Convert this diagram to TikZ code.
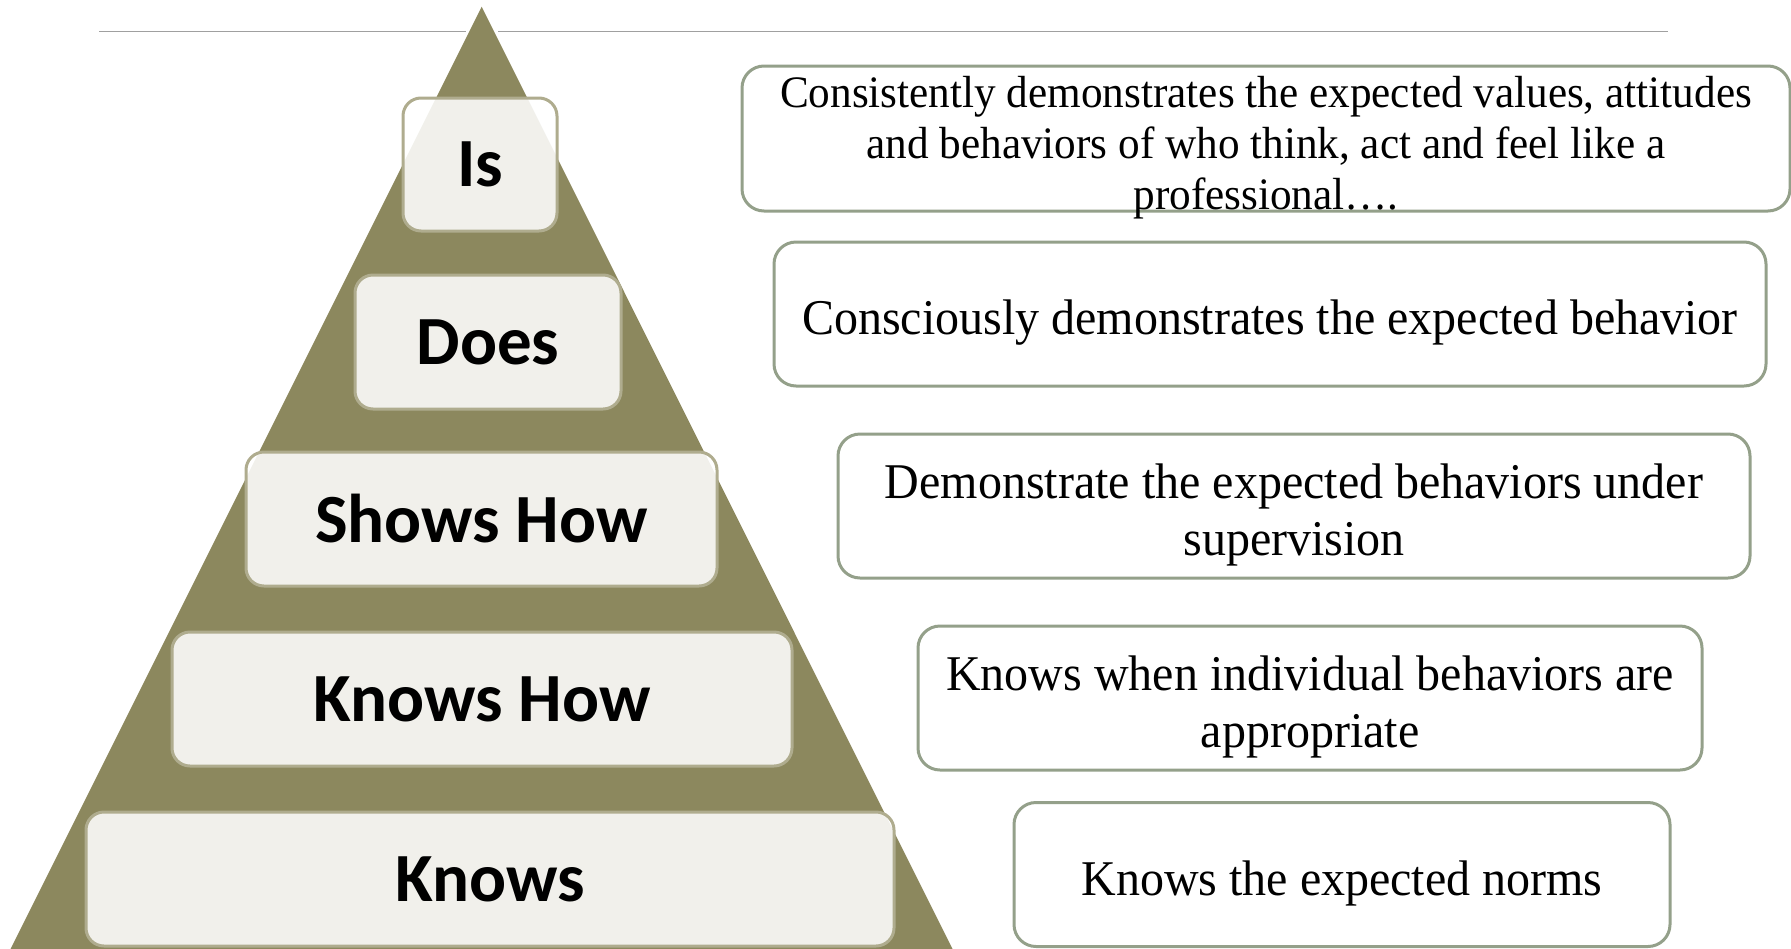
\documentclass[tikz,border=0pt]{standalone}
\usepackage{fontspec}
\setmainfont{Liberation Serif}[FakeStretch=0.96]
\newfontfamily\tierfont{Carlito}
\usepackage{xcolor}
\usepackage{tikz}
\usetikzlibrary{positioning}
\definecolor{pyrolive}{RGB}{140,136,94}
\definecolor{notegreen}{RGB}{148,160,138}
\definecolor{rulegray}{RGB}{160,160,160}
\tikzset{
  tier/.style     = {rounded corners=18pt, draw=pyrolive!70!white, line width=3pt,
                     fill=white, fill opacity=0.88, text opacity=1,
                     font=\tierfont\bfseries\fontsize{69}{72}\selectfont,
                     inner sep=0pt, minimum height=134pt},
  note/.style     = {rounded corners=22pt, draw=notegreen, line width=3pt, fill=white,
                     inner sep=0pt, minimum height=144pt},
  notetext/.style = {align=center, inner sep=0pt, font=\fontsize{50}{57}\selectfont},
  headline/.style = {rulegray, line width=1.5pt},
}

\begin{document}
\begin{tikzpicture}[x=1pt, y=-1pt]
\useasboundingbox (0,0) rectangle (1791,948);
\clip (0,0) rectangle (1791,948);
% rule across the top, broken where the apex passes
\draw[headline] (99,31.5) -- (466,31.5);
\draw[headline] (498,31.5) -- (1668,31.5);
% the pyramid
\fill[pyrolive] (481.7,6.7) -- (958,960) -- (5,960) -- cycle;
% levels, top to bottom
\node[tier, minimum width=154pt, minimum height=133pt] (is) at (480,164.5) {Is};
\node[tier, minimum width=266pt] (does)     at (488,342)   {Does};
\node[tier, minimum width=471pt] (showshow) at (481.5,519) {Shows How};
\node[tier, minimum width=620pt] (knowshow) at (482,699)   {Knows How};
\node[tier, minimum width=808pt] (knows)    at (490,879)   {Knows};
% descriptions on the right (text sits a little low in its box)
\node[note, minimum width=1048pt, minimum height=145pt] (isnote) at (1266,138.5) {};
\node[notetext, font=\fontsize{45}{51}\selectfont] (istext) at ([yshift=-9pt]isnote.center)
  {Consistently demonstrates the expected values, attitudes\\
   and behaviors of who think, act and feel like a\\ professional….};
\node[note, minimum width=992pt] (doesnote) at (1270,314) {};
\node[notetext] (doestext) at ([yshift=-9pt]doesnote.center)
  {Consciously demonstrates the expected behavior};
\node[note, minimum width=912pt] (showsnote) at (1294,506) {};
\node[notetext] (showstext) at ([yshift=-9pt]showsnote.center)
  {Demonstrate the expected behaviors under\\ supervision};
\node[note, minimum width=784pt] (knowshownote) at (1310,698) {};
\node[notetext] (knowshowtext) at ([yshift=-9pt]knowshownote.center)
  {Knows when individual behaviors are\\ appropriate};
\node[note, minimum width=656pt] (knowsnote) at (1342,874.5) {};
\node[notetext] (knowstext) at ([yshift=-9pt]knowsnote.center)
  {Knows the expected norms};
\end{tikzpicture}
\end{document}
